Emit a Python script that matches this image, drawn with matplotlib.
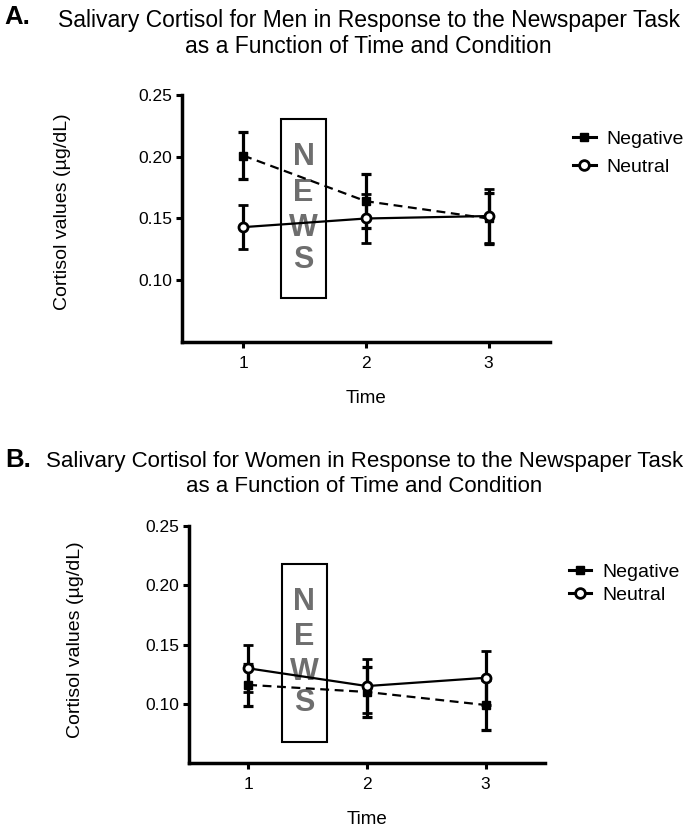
import numpy as np
import matplotlib
matplotlib.use("Agg")
import matplotlib.pyplot as plt
from matplotlib.patches import Rectangle
from matplotlib.lines import Line2D

plt.rcParams['font.family'] = ['Liberation Sans', 'DejaVu Sans']

# ==========================================================
# Data
# ==========================================================

time = [1, 2, 3]
y_ticks = [0.10, 0.15, 0.20, 0.25]

men_negative = [0.201, 0.164, 0.150]
men_negative_err = [0.019, 0.022, 0.021]
men_neutral = [0.143, 0.150, 0.152]
men_neutral_err = [0.018, 0.020, 0.022]

women_negative = [0.116, 0.110, 0.099]
women_negative_err = [0.018, 0.021, 0.021]
women_neutral = [0.130, 0.115, 0.122]
women_neutral_err = [0.020, 0.023, 0.023]

# ==========================================================
# Figure
# ==========================================================

fig = plt.figure(figsize=(6.89, 8.30), dpi=100)

panels = [
    dict(
        letter="A.",
        title="Salivary Cortisol for Men in Response to the Newspaper Task\nas a Function of Time and Condition",
        letter_y=0.979,
        title_x=0.535,
        title_size=16.5,
        title_y=0.9595,
        rect=[0.264, 0.588, 0.534, 0.2975],
        neg=men_negative, neg_err=men_negative_err,
        neu=men_neutral, neu_err=men_neutral_err,
        box=(1.31, 0.086, 0.365, 0.1445),
        letters_y=[0.1996, 0.171, 0.1427, 0.116],
        ylabel_xy=(-0.301, 0.526),
        legend_xy=(0.832, 0.843),
        legend_gap=0.55,
    ),
    dict(
        letter="B.",
        title="Salivary Cortisol for Women in Response to the Newspaper Task\nas a Function of Time and Condition",
        letter_y=0.446,
        title_x=0.529,
        title_size=16,
        title_y=0.429,
        rect=[0.274, 0.0807, 0.517, 0.2853],
        neg=women_negative, neg_err=women_negative_err,
        neu=women_neutral, neu_err=women_neutral_err,
        box=(1.284, 0.068, 0.38, 0.1505),
        letters_y=[0.186, 0.1567, 0.127, 0.1005],
        ylabel_xy=(-0.295, 0.519),
        legend_xy=(0.826, 0.321),
        legend_gap=0.25,
    ),
]

for p in panels:

    fig.text(0.007, p["letter_y"], p["letter"], fontsize=18.5,
             fontweight="bold", va="center", ha="left")
    fig.text(p["title_x"], p["title_y"], p["title"], fontsize=p["title_size"],
             ha="center", va="center", linespacing=1.2)

    ax = fig.add_axes(p["rect"])

    ax.errorbar(time, p["neg"], yerr=p["neg_err"], color="black",
                linestyle="--", dashes=(4, 2.5), linewidth=1.6,
                marker="s", markersize=5.5, elinewidth=2.3,
                capsize=3.5, capthick=2.3, zorder=3)

    ax.errorbar(time, p["neu"], yerr=p["neu_err"], color="black",
                linestyle="-", linewidth=1.6,
                marker="o", markersize=6.5, markerfacecolor="white",
                markeredgewidth=2, elinewidth=2.3,
                capsize=3.5, capthick=2.3, zorder=4)

    # NEWS box
    bx, by, bw, bh = p["box"]
    ax.add_patch(Rectangle((bx, by), bw, bh, fill=False,
                           edgecolor="black", linewidth=1.5, zorder=2))
    for ch, ly in zip("NEWS", p["letters_y"]):
        ax.text(bx + bw / 2, ly, ch, fontsize=22, fontweight="bold",
                color="#6e6e6e", ha="center", va="center", zorder=2)

    ax.set_xlim(0.5, 3.5)
    ax.set_ylim(0.05, 0.25)
    ax.set_xticks(time)
    ax.set_yticks(y_ticks)
    ax.set_yticklabels([f"{v:.2f}" for v in y_ticks])

    for side in ["top", "right"]:
        ax.spines[side].set_visible(False)
    for side in ["left", "bottom"]:
        ax.spines[side].set_linewidth(2.5)

    ax.tick_params(axis="both", direction="out", length=4, width=2.2,
                   labelsize=12.5, pad=3)
    ax.tick_params(axis="x", pad=6)

    ax.set_xlabel("Time", fontsize=13.5, labelpad=14)
    ax.set_ylabel("Cortisol values (µg/dL)", fontsize=14)
    ax.yaxis.set_label_coords(*p["ylabel_xy"])

    handles = [
        Line2D([], [], color="black", linewidth=2.2, marker="s",
               markersize=6),
        Line2D([], [], color="black", linewidth=2.2, marker="o",
               markersize=7, markerfacecolor="white", markeredgewidth=2),
    ]
    ax.legend(handles, ["Negative", "Neutral"], loc="upper left",
              bbox_to_anchor=p["legend_xy"],
              bbox_transform=fig.transFigure, frameon=False, fontsize=14,
              handlelength=1.15, handletextpad=0.55, borderpad=0,
              borderaxespad=0, labelspacing=p["legend_gap"])

fig.savefig("out.png", dpi=100)
